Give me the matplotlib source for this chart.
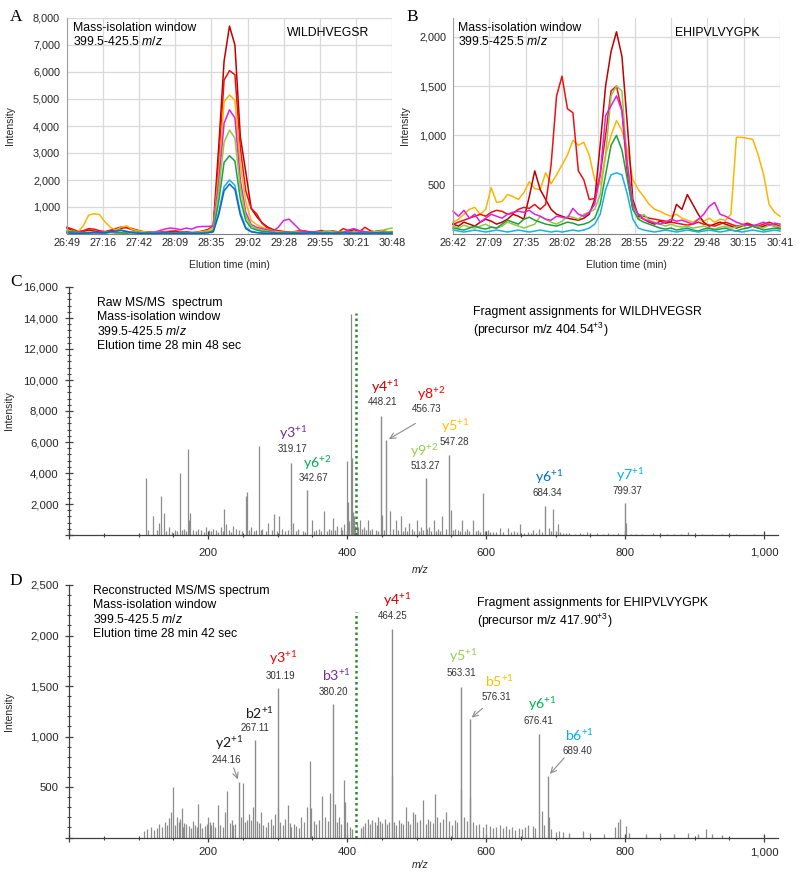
import numpy as np
import matplotlib.pyplot as plt
from matplotlib.ticker import MultipleLocator, FuncFormatter

plt.rcParams['font.family'] = 'Liberation Sans'
plt.rcParams['mathtext.fontset'] = 'custom'
plt.rcParams['mathtext.rm'] = 'Liberation Sans'
plt.rcParams['mathtext.it'] = 'Liberation Sans:italic'

W, H = 800, 873

# ---------------- chromatogram data (A, B) ----------------
a_tick_labels = ['26:49', '27:16', '27:42', '28:09', '28:35', '29:02', '29:28', '29:55', '30:21', '30:48']
b_tick_labels = ['26:42', '27:09', '27:35', '28:02', '28:28', '28:55', '29:22', '29:48', '30:15', '30:41']
a_start, a_end = 1609, 1848   # seconds
b_start, b_end = 1602, 1841

a_darkred = [220, 120, 60, 90, 150, 110, 70, 60, 110, 160,
             210, 250, 200, 140, 90, 70, 60, 50, 80, 100,
             110, 90, 60, 40, 70, 110, 160, 300, 3200, 6400,
             7700, 7000, 3600, 2300, 950, 650, 420, 260, 170, 120,
             90, 70, 60, 90, 110, 70, 50, 60, 90, 110,
             80, 60, 110, 160, 110, 80, 60, 100, 130, 90,
             70]
a_red = [250, 180, 100, 120, 200, 180, 120, 90, 140, 200,
         260, 230, 160, 110, 80, 60, 50, 70, 90, 60,
         50, 60, 80, 60, 50, 80, 140, 280, 2600, 5700,
         6050, 5900, 3200, 1600, 950, 750, 400, 220, 150, 110,
         80, 60, 90, 120, 80, 60, 90, 130, 80, 50,
         60, 200, 120, 60, 80, 250, 120, 70, 90, 60,
         50]
a_gold = [150, 100, 80, 300, 700, 750, 720, 450, 250, 150,
          250, 300, 180, 120, 90, 60, 50, 40, 60, 50,
          40, 60, 50, 40, 60, 90, 120, 250, 2200, 4900,
          5150, 4950, 2600, 1200, 500, 350, 250, 180, 120, 80,
          60, 50, 70, 60, 40, 50, 60, 80, 50, 40,
          60, 80, 50, 40, 60, 70, 50, 40, 60, 80,
          100]
a_magenta = [60, 40, 80, 60, 40, 50, 60, 80, 60, 40,
             50, 60, 80, 60, 40, 50, 60, 120, 180, 220,
             200, 160, 220, 180, 260, 280, 280, 300, 1900, 4100,
             4600, 4300, 2000, 800, 350, 250, 200, 150, 100, 250,
             500, 550, 350, 150, 80, 60, 80, 60, 100, 60,
             40, 60, 150, 200, 120, 80, 60, 40, 60, 50,
             40]
a_lightgreen = [80, 60, 40, 50, 80, 60, 40, 60, 90, 70,
                50, 40, 60, 80, 60, 40, 50, 60, 40, 30,
                40, 60, 50, 40, 30, 50, 70, 150, 1600, 3400,
                3850, 3550, 1700, 650, 300, 200, 150, 100, 80, 60,
                40, 60, 80, 60, 40, 30, 50, 80, 120, 80,
                60, 40, 60, 80, 50, 40, 60, 90, 120, 180,
                220]
a_green = [100, 80, 60, 40, 30, 50, 40, 60, 80, 60,
           40, 30, 50, 60, 40, 30, 40, 50, 40, 30,
           40, 50, 40, 30, 40, 50, 60, 120, 1200, 2650,
           2900, 2700, 1300, 500, 220, 150, 100, 80, 60, 40,
           30, 50, 60, 40, 30, 40, 50, 60, 40, 30,
           50, 60, 40, 30, 40, 50, 40, 30, 50, 60,
           70]
a_cyan = [60, 40, 30, 20, 30, 40, 30, 20, 60, 120,
          150, 100, 60, 40, 30, 20, 30, 40, 30, 20,
          30, 40, 30, 20, 30, 40, 50, 90, 800, 1750,
          2000, 1800, 800, 250, 100, 60, 40, 30, 20, 30,
          40, 30, 20, 30, 40, 30, 20, 30, 40, 30,
          20, 30, 40, 30, 20, 30, 40, 30, 20, 30,
          40]
a_blue = [40, 30, 20, 30, 40, 60, 50, 40, 80, 110,
          130, 90, 50, 30, 20, 30, 20, 30, 40, 30,
          20, 30, 20, 30, 20, 30, 40, 80, 700, 1600,
          1850, 1650, 700, 200, 80, 50, 30, 20, 30, 20,
          30, 20, 30, 20, 30, 40, 30, 20, 30, 20,
          30, 40, 30, 20, 30, 20, 30, 40, 30, 20,
          30]

b_darkred = [100, 80, 120, 100, 80, 120, 150, 130, 100, 120,
             150, 200, 180, 150, 380, 640, 450, 350, 250, 200,
             180, 160, 150, 140, 160, 200, 350, 900, 1500, 1850,
             2050, 1800, 1100, 350, 180, 150, 120, 100, 130, 110,
             120, 300, 250, 400, 300, 200, 120, 80, 100, 120,
             100, 80, 60, 80, 100, 80, 60, 80, 100, 80,
             60]
b_red = [100, 120, 140, 160, 180, 200, 180, 220, 240, 230,
         200, 210, 250, 270, 260, 300, 250, 300, 700, 1400,
         1600, 1270, 1230, 640, 550, 350, 360, 600, 1000, 1450,
         1500, 1250, 600, 250, 200, 180, 160, 150, 140, 130,
         120, 110, 100, 90, 100, 120, 100, 90, 80, 100,
         120, 100, 80, 90, 110, 90, 80, 100, 120, 100,
         80]
b_gold = [120, 150, 200, 250, 270, 200, 250, 470, 320, 330,
          400, 380, 350, 420, 530, 460, 450, 620, 510, 600,
          700, 800, 950, 900, 930, 800, 550, 500, 800, 1000,
          1150, 1050, 850, 550, 450, 380, 300, 250, 230, 200,
          180, 200, 160, 140, 120, 150, 130, 160, 120, 150,
          140, 200, 980, 980, 970, 960, 800, 600, 300, 220,
          180]
b_lightgreen = [80, 60, 90, 70, 60, 80, 100, 70, 60, 80,
                120, 100, 80, 60, 80, 100, 180, 150, 120, 100,
                130, 180, 170, 150, 200, 220, 250, 400, 800, 1400,
                1500, 1450, 700, 300, 150, 200, 140, 120, 100, 80,
                100, 80, 70, 80, 60, 70, 80, 60, 50, 70,
                80, 60, 70, 90, 60, 80, 70, 60, 90, 80,
                70]
b_magenta = [230, 180, 240, 160, 200, 120, 160, 200, 180, 160,
             200, 220, 230, 220, 240, 200, 180, 150, 140, 180,
             170, 160, 260, 200, 180, 220, 300, 600, 1200, 1300,
             1400, 1250, 700, 300, 200, 150, 130, 110, 100, 120,
             150, 130, 140, 120, 100, 150, 200, 280, 320, 200,
             180, 150, 120, 100, 90, 80, 100, 120, 90, 110,
             100]
b_green = [60, 50, 40, 60, 80, 60, 50, 70, 60, 100,
           140, 120, 100, 150, 170, 140, 120, 100, 90, 80,
           100, 120, 110, 90, 100, 120, 160, 300, 600, 900,
           1000, 850, 550, 250, 150, 120, 100, 80, 60, 50,
           60, 40, 50, 60, 40, 30, 50, 60, 40, 50,
           60, 40, 30, 50, 60, 80, 60, 40, 50, 60,
           50]
b_cyan = [40, 30, 20, 30, 40, 30, 20, 30, 40, 30,
          20, 30, 40, 30, 20, 30, 40, 30, 20, 30,
          20, 30, 40, 30, 40, 60, 100, 200, 450, 600,
          620, 600, 400, 150, 60, 40, 30, 20, 30, 40,
          30, 20, 30, 40, 30, 20, 30, 40, 30, 20,
          30, 40, 30, 20, 30, 40, 30, 20, 30, 40,
          30]

c_darkred, c_red, c_gold, c_magenta = '#C00000', '#F01010', '#FFB400', '#E020E0'
c_lgreen, c_green, c_cyan, c_blue = '#8CCB44', '#1FA040', '#18B0E8', '#1466C0'

# ---------------- spectrum data (C, D) ----------------
iso_low, iso_high = 399.5, 425.5
c_window_top = 14300
d_window_top = 2230

c_peaks = [(110.8, 3700), (113, 300), (120.4, 1250), (126, 300), (130, 800), (132, 2500),
           (136.7, 1400), (140, 250), (144, 500), (148, 200), (152, 300), (156, 250),
           (159.7, 4000), (162, 300), (165, 400), (168, 250), (170.7, 5550), (172.2, 1000),
           (174, 1400), (178, 300), (182, 250), (185, 400), (190, 350), (194, 200),
           (197, 500), (201, 300), (204, 250), (207, 400), (212, 350), (215, 200),
           (218, 500), (221, 250), (223.5, 1650), (226, 700), (230, 300), (233, 200),
           (236, 600), (240, 400), (245, 300), (249, 250), (254, 2500), (256, 2800),
           (259, 300), (262, 500), (266, 250), (269, 300), (273.4, 5750), (276, 300),
           (278, 400), (283, 250), (287, 800), (292, 300), (295, 1350), (299, 250),
           (302, 1250), (307, 400), (311, 250), (315, 300), (322, 800), (326, 250),
           (330, 400), (336, 250), (339, 200), (349, 950), (352, 250), (355, 300),
           (360, 400), (363, 250), (367, 1550), (371, 250), (374, 400), (377, 300),
           (380, 1100), (383, 300), (386, 600), (391, 500), (393, 300), (396, 700),
           (399.5, 4800), (401, 2150), (403, 900), (405.3, 14250), (406.7, 5000), (408, 1500),
           (410, 1200), (412, 600), (414, 800), (416, 500), (419, 950), (421, 400),
           (424, 500), (427, 300), (430, 950), (433, 300), (436, 400), (441, 300),
           (444, 250), (450, 1300), (453, 300), (462, 1550), (466, 400), (470, 950),
           (473, 300), (477, 1200), (480, 250), (483, 500), (486, 250), (489, 750),
           (494, 400), (497, 250), (500, 950), (503, 250), (506, 500), (510, 300),
           (515, 400), (518, 500), (521, 250), (525, 950), (528, 250), (531, 400),
           (534, 250), (537, 1200), (542, 400), (549, 1600), (552, 300), (555, 400),
           (560, 300), (563, 250), (566, 950), (569, 250), (572, 400), (576, 250),
           (581, 950), (585, 250), (588, 300), (591, 200), (595, 2700), (599, 250),
           (603, 300), (606, 200), (610, 200), (615, 200), (620, 450), (625, 200),
           (632, 450), (636, 200), (640, 250), (645, 200), (649, 700), (655, 150),
           (660, 200), (664, 150), (668, 300), (672, 150), (676, 400), (680, 200),
           (690, 450), (693, 250), (697, 1650), (700, 250), (703, 700), (706, 200),
           (710, 150), (715, 100), (720, 100), (728, 80), (735, 150), (740, 80),
           (745, 200), (750, 80), (760, 150), (768, 60), (775, 100), (783, 60),
           (790, 100), (801, 800), (808, 60), (815, 80), (825, 50), (840, 100),
           (850, 80), (860, 50), (870, 80), (880, 50), (890, 200), (900, 60),
           (910, 80), (925, 50), (940, 60), (960, 50), (985, 40)]

d_peaks = [(108, 60), (112, 80), (118, 100), (122, 70), (126, 90), (130, 130), (134, 100),
           (138, 150), (141, 120), (144, 190), (147, 250), (149, 500), (152, 120), (155, 200),
           (158, 150), (160, 180), (162, 290), (164, 100), (166, 140), (169, 130), (172, 110),
           (175, 90), (178, 160), (181, 120), (184, 100), (186, 330), (189, 140), (192, 90),
           (195, 110), (198, 130), (200, 200), (203, 150), (205, 120), (207, 150), (210, 100),
           (214, 320), (217, 120), (221, 100), (224, 250), (228, 465), (231, 140), (234, 170),
           (236, 120), (239, 130), (247, 200), (250, 540), (253, 150), (256, 170), (259, 230),
           (262, 170), (264, 300), (270, 160), (273, 140), (276, 250), (279, 120), (283, 100),
           (287, 150), (290, 180), (293, 120), (297, 230), (300, 290), (304, 150), (308, 120),
           (311, 180), (315, 320), (318, 140), (320, 100), (324, 130), (327, 110), (331, 90),
           (334, 200), (338, 150), (342, 300), (346, 760), (348, 290), (352, 160), (356, 130),
           (360, 170), (364, 410), (368, 200), (372, 160), (376, 440), (382, 330), (385, 150),
           (388, 200), (391, 130), (395, 570), (397, 350), (400, 150), (404, 100), (407, 80),
           (420, 90), (423, 110), (426, 140), (430, 180), (433, 130), (436, 170), (440, 150),
           (443, 120), (445, 200), (448, 160), (451, 140), (455, 180), (458, 130), (461, 150),
           (465, 610), (468, 150), (471, 120), (475, 170), (478, 140), (481, 130), (485, 300),
           (488, 160), (491, 130), (495, 250), (498, 230), (501, 150), (505, 170), (510, 370),
           (513, 130), (517, 180), (520, 160), (523, 140), (527, 430), (530, 200), (534, 150),
           (538, 180), (543, 250), (547, 160), (551, 120), (555, 170), (558, 150), (564, 480),
           (568, 200), (572, 160), (577, 400), (581, 150), (585, 120), (590, 130), (595, 100),
           (600, 130), (605, 110), (610, 90), (615, 100), (620, 120), (625, 90), (629, 110),
           (633, 80), (638, 100), (642, 70), (647, 90), (652, 80), (656, 100), (661, 120),
           (667, 110), (671, 90), (680, 260), (684, 120), (690, 200), (694, 80), (700, 50),
           (705, 60), (710, 50), (720, 40), (740, 60), (750, 40), (770, 30), (785, 100),
           (790, 150), (792, 180), (801, 110), (805, 40), (830, 30), (850, 40), (870, 30),
           (890, 40), (905, 30), (916, 80), (925, 30), (940, 20)]

c_frag_name = ['y3', 'y6', 'y4', 'y8', 'y9', 'y5', 'y6', 'y7']
c_frag_charge = ['+1', '+2', '+1', '+2', '+2', '+1', '+1', '+1']
c_frag_mz = [319.17, 342.67, 448.21, 456.73, 513.27, 547.28, 684.34, 799.37]
c_frag_int = [4650, 2900, 7650, 6100, 3700, 5150, 1900, 2050]
c_frag_color = ['#7030A0', '#00B050', '#C00000', '#FF0000', '#92D050', '#FFC000', '#0070C0', '#00B0F0']
# label layout (pixels from peak top): number dx, dy, label dx, dy, arrow tail or None
c_frag_layout = [(2, 14, 2, 30, None), (6, 12, 10, 27, None), (2, 14, 5, 30, None),
                 (40, 31, 45, 47, (29, 17)), (0, 12, -2, 27, None), (5, 13, 6, 29, None),
                 (3, 13, 5, 29, None), (3, 12, 6, 29, None)]

d_frag_name = ['y2', 'b2', 'y3', 'b3', 'y4', 'y5', 'b5', 'y6', 'b6']
d_frag_charge = ['+1'] * 9
d_frag_mz = [244.16, 267.11, 301.19, 380.20, 464.25, 563.31, 576.31, 676.41, 689.40]
d_frag_int = [550, 970, 1480, 1320, 2060, 1490, 1170, 1020, 610]
d_frag_color = ['#1a1a1a', '#1a1a1a', '#FF0000', '#7030A0', '#D00000', '#92D050', '#FFC000', '#00B050', '#00B0F0']
d_frag_layout = [(-12, 22, -10, 39, (-5, 14)), (0, 12, 5, 27, None), (2, 12, 5, 30, None),
                 (0, 12, 3, 29, None), (1, 13, 5, 30, None), (1, 14, 3, 31, None),
                 (27, 22, 30, 39, (13, 11)), (-1, 13, 3, 31, None), (29, 25, 31, 41, (16, 18))]


def fxy(px, py):
    return px / W, 1 - py / H


comma = FuncFormatter(lambda v, p: '' if v == 0 else f'{v:,.0f}')

fig = plt.figure(figsize=(W / 100, H / 100), dpi=100)

# ---------------- panels A and B ----------------
axA = fig.add_axes([67 / W, 1 - 234 / H, 325 / W, 216 / H])
axB = fig.add_axes([453 / W, 1 - 234 / H, 327 / W, 216 / H])

for ax, start, end, labels, series, ymax, yt in [
        (axA, a_start, a_end, a_tick_labels,
         [(a_darkred, c_darkred), (a_red, c_red), (a_gold, c_gold), (a_magenta, c_magenta),
          (a_lightgreen, c_lgreen), (a_green, c_green), (a_cyan, c_cyan), (a_blue, c_blue)],
         8000, [1000, 2000, 3000, 4000, 5000, 6000, 7000, 8000]),
        (axB, b_start, b_end, b_tick_labels,
         [(b_gold, c_gold), (b_darkred, c_darkred), (b_red, c_red), (b_lightgreen, c_lgreen),
          (b_magenta, c_magenta), (b_green, c_green), (b_cyan, c_cyan)],
         2190, [500, 1000, 1500, 2000])]:
    for vals, col in series:
        t = np.linspace(start, end, len(vals))
        ax.plot(t, vals, color=col, lw=1.1, clip_on=False)
    ax.set_xlim(start, end)
    ax.set_ylim(0, ymax)
    ax.set_xticks(np.linspace(start, end, len(labels)))
    ax.set_xticklabels(labels)
    ax.set_yticks(yt)
    ax.yaxis.set_major_formatter(comma)
    ax.grid(color='#d9d9d9', lw=0.9)
    ax.set_axisbelow(True)
    for s in ['top', 'right']:
        ax.spines[s].set_visible(False)
    ax.spines['left'].set_color('#a0a0a0')
    ax.spines['bottom'].set_color('#7f7f7f')
    ax.tick_params(length=0, labelsize=7.8, colors='#262626')
    ax.tick_params(axis='x', pad=3)
    ax.tick_params(axis='y', pad=5)
    ax.set_xlabel('Elution time (min)', fontsize=7.5, color='#262626')
    ax.set_ylabel('Intensity', fontsize=7.5, color='#262626')

axA.xaxis.set_label_coords(0.5, -0.12)
axB.xaxis.set_label_coords(0.53, -0.12)
axA.yaxis.set_label_coords(-0.16, 0.5)
axB.yaxis.set_label_coords(-0.131, 0.5)

axA.text(6 / 325, 1 - 4 / 216, 'Mass-isolation window\n399.5-425.5 $\\mathit{m/z}$', transform=axA.transAxes,
         ha='left', va='top', fontsize=8.8, linespacing=1.15)
axA.text(220 / 325, 1 - 15 / 216, 'WILDHVEGSR', transform=axA.transAxes,
         ha='left', va='center', fontsize=8.8)
axB.text(5 / 327, 1 - 4 / 216, 'Mass-isolation window\n399.5-425.5 $\\mathit{m/z}$', transform=axB.transAxes,
         ha='left', va='top', fontsize=8.8, linespacing=1.15)
axB.text(222 / 327, 1 - 15 / 216, 'EHIPVLVYGPK', transform=axB.transAxes,
         ha='left', va='center', fontsize=8.8)

# ---------------- panels C and D ----------------
axC = fig.add_axes([69 / W, 1 - 535 / H, 709 / W, 248 / H])
axD = fig.add_axes([69 / W, 1 - 837.5 / H, 709 / W, 252.5 / H])

spec_sets = [
    (axC, c_peaks, c_frag_name, c_frag_charge, c_frag_mz, c_frag_int, c_frag_color, c_frag_layout,
     16000, 2000, 400, c_window_top),
    (axD, d_peaks, d_frag_name, d_frag_charge, d_frag_mz, d_frag_int, d_frag_color, d_frag_layout,
     2500, 500, 100, d_window_top),
]
for ax, peaks, names, charges, fmz, fint, fcol, layout, ymax, ymaj, ymin, wtop in spec_sets:
    mz, inten = np.array(peaks).T
    ax.vlines(mz, 0, inten, color='#8c8c8c', lw=0.9)
    ax.vlines(fmz, 0, fint, color='#8c8c8c', lw=1.0)
    ax.vlines((iso_low + iso_high) / 2, 0, wtop, color='#2E8B2E', lw=1.8, linestyles=(0, (1, 1.2)))
    for name, ch, m, i, col, (ndx, ndy, ldx, ldy, arrow) in zip(names, charges, fmz, fint, fcol, layout):
        ax.annotate(f'{m:.2f}', xy=(m, i), xytext=(ndx, ndy), textcoords='offset pixels',
                    ha='center', va='center', fontsize=7, color='#333333')
        ax.annotate(name + '$^{\\mathregular{' + ch + '}}$', xy=(m, i), xytext=(ldx, ldy),
                    textcoords='offset pixels', ha='center', va='center', fontsize=10.2,
                    color=col, family='Lato')
        if arrow is not None:
            ax.annotate('', xy=(m, i), xytext=arrow, textcoords='offset pixels',
                        arrowprops=dict(arrowstyle='->', color='#8c8c8c', lw=0.8,
                                        shrinkA=0, shrinkB=2))
    ax.set_xlim(0, 1020)
    ax.set_ylim(0, ymax)
    ax.xaxis.set_major_locator(MultipleLocator(200))
    ax.xaxis.set_minor_locator(MultipleLocator(50))
    ax.yaxis.set_major_locator(MultipleLocator(ymaj))
    ax.yaxis.set_minor_locator(MultipleLocator(ymin))
    ax.xaxis.set_major_formatter(comma)
    ax.yaxis.set_major_formatter(comma)
    for s in ['top', 'right']:
        ax.spines[s].set_visible(False)
    for s in ['left', 'bottom']:
        ax.spines[s].set_color('#404040')
        ax.spines[s].set_linewidth(0.9)
    ax.tick_params(which='major', direction='inout', length=6, width=0.9, color='#404040',
                   labelsize=8.2, labelcolor='#262626')
    ax.tick_params(which='minor', direction='inout', length=3.5, width=0.8, color='#404040')
    ax.tick_params(axis='y', which='major', pad=4.5)
    ax.set_xlabel('m/z', fontsize=7.5, style='italic', color='#262626')
    ax.set_ylabel('Intensity', fontsize=7.5, color='#262626')
    ax.yaxis.set_label_coords(-0.077, 0.5)

axC.tick_params(axis='x', which='major', pad=6)
axD.tick_params(axis='x', which='major', pad=4)
axC.xaxis.set_label_coords(0.495, -0.12)
axD.xaxis.set_label_coords(0.495, -0.09)

axC.text(28 / 709, 1 - 10 / 248,
         'Raw MS/MS  spectrum\nMass-isolation window\n399.5-425.5 $\\mathit{m/z}$\nElution time 28 min 48 sec',
         transform=axC.transAxes, ha='left', va='top', fontsize=8.8, linespacing=1.2)
axC.text(404 / 709, 1 - 19 / 248,
         'Fragment assignments for WILDHVEGSR\n(precursor m/z 404.54$^{\\mathregular{+3}}$)',
         transform=axC.transAxes, ha='left', va='top', fontsize=8.8, linespacing=1.2)
axD.text(24 / 709, 1 - 0 / 252.5,
         'Reconstructed MS/MS spectrum\nMass-isolation window\n399.5-425.5 $\\mathit{m/z}$\nElution time 28 min 42 sec',
         transform=axD.transAxes, ha='left', va='top', fontsize=8.8, linespacing=1.2)
axD.text(408 / 709, 1 - 12 / 252.5,
         'Fragment assignments for EHIPVLVYGPK\n(precursor m/z 417.90$^{\\mathregular{+3}}$)',
         transform=axD.transAxes, ha='left', va='top', fontsize=8.8, linespacing=1.2)

# panel letters
for letter, (px, py) in zip('ABCD', [(16, 17), (412, 17), (16, 282), (16, 581)]):
    x, y = fxy(px, py)
    fig.text(x, y, letter, ha='center', va='center', fontsize=12.5, family='Liberation Serif')

fig.savefig('out.png', dpi=100)
